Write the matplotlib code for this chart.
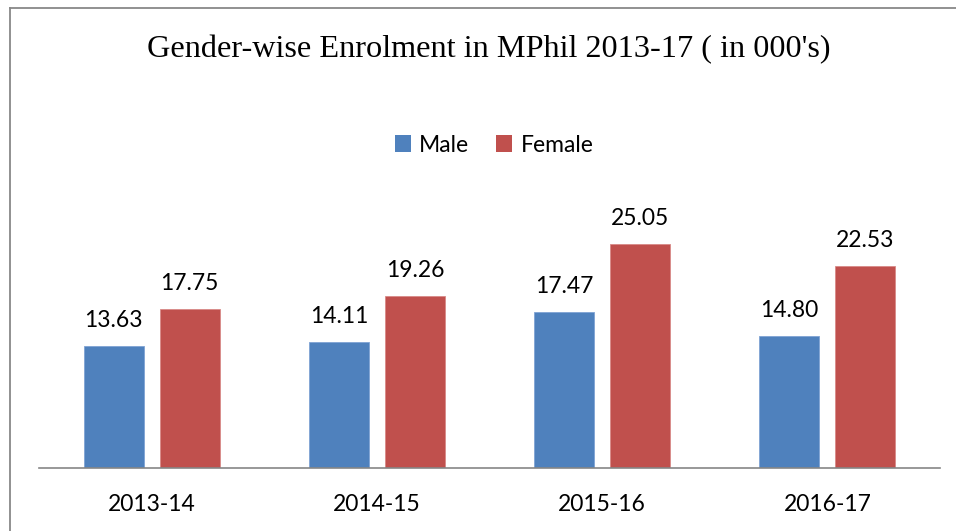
import matplotlib
matplotlib.use("Agg")
import matplotlib.pyplot as plt
from matplotlib.lines import Line2D
from matplotlib.patches import Patch
import numpy as np

categories = ["2013-14", "2014-15", "2015-16", "2016-17"]
male = [13.63, 14.11, 17.47, 14.80]
female = [17.75, 19.26, 25.05, 22.53]
title = "Gender-wise Enrolment in MPhil 2013-17 ( in 000's)"

W, H = 956, 531
fig = plt.figure(figsize=(W / 100, H / 100), dpi=100)

# axes in pixel terms: left 39, right 940, bottom 468, top 200
ax_left, ax_right, ax_bottom, ax_top = 39, 940, 468, 200
ax = fig.add_axes([ax_left / W, 1 - ax_bottom / H, (ax_right - ax_left) / W, (ax_bottom - ax_top) / H])

blue = "#4F81BD"
red = "#C0504D"
x = np.arange(len(categories))
bw = 0.266
off = 0.169
b1 = ax.bar(x - off, male, bw, color=blue, edgecolor="#7fa3d4", linewidth=0.6)
b2 = ax.bar(x + off, female, bw, color=red, edgecolor="#d88a88", linewidth=0.6)

ax.set_xlim(-0.5, len(categories) - 0.5)
ax.set_ylim(0, 268 / 8.95)

fs = 16.5
lblfont = dict(family="Lato", fontsize=fs, color="black")
for bars, vals in ((b1, male), (b2, female)):
    for rect, v in zip(bars, vals):
        ax.annotate(f"{v:.2f}", (rect.get_x() + rect.get_width() / 2, v),
                    xytext=(0, 13.7), textcoords="offset points",
                    ha="center", va="baseline", **lblfont)

for s in ["top", "right", "left"]:
    ax.spines[s].set_visible(False)
ax.spines["bottom"].set_color("#868686")
ax.spines["bottom"].set_linewidth(1.2)
ax.set_yticks([])
ax.set_xticks(x)
ax.set_xticklabels(categories, fontfamily="Lato", fontsize=fs)
ax.tick_params(axis="x", length=0, pad=18.5)

fig.text(489 / W, 1 - 50 / H, title, ha="center", va="center",
         fontfamily="Liberation Serif", fontsize=23.2)

handles = [Patch(facecolor=blue), Patch(facecolor=red)]
fig.legend(handles, ["Male", "Female"], loc="center", bbox_to_anchor=(494 / W, 1 - 145 / H),
           ncol=2, frameon=False, prop=dict(family="Lato", size=fs),
           handlelength=0.7, handleheight=0.7, handletextpad=0.35, columnspacing=1.2)

# outer frame lines (top and left)
fig.add_artist(Line2D([10 / W, 1], [1 - 8 / H, 1 - 8 / H], transform=fig.transFigure,
                      color="#888888", linewidth=1.3))
fig.add_artist(Line2D([10 / W, 10 / W], [0, 1 - 8 / H], transform=fig.transFigure,
                      color="#888888", linewidth=1.3))

fig.savefig("out.png", dpi=100, facecolor="white")
